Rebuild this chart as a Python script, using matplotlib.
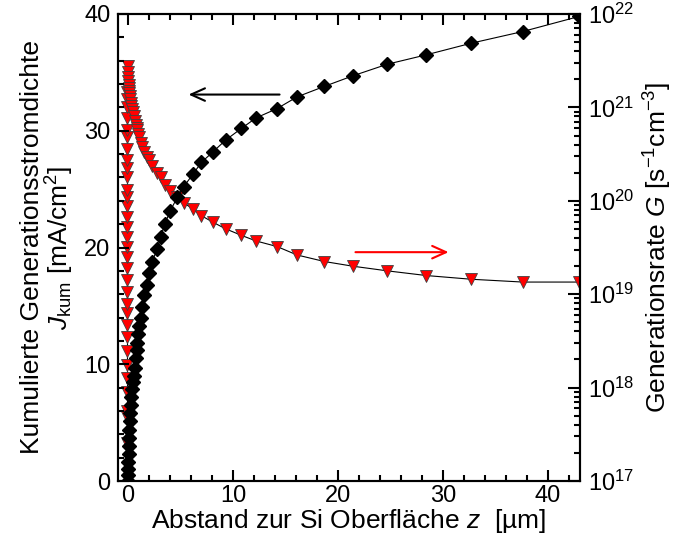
import numpy as np
import matplotlib.pyplot as plt
from matplotlib.ticker import MultipleLocator, LogLocator, NullFormatter

plt.rcParams['font.family'] = ['Liberation Sans', 'DejaVu Sans']
plt.rcParams['mathtext.fontset'] = 'custom'
plt.rcParams['mathtext.rm'] = 'Liberation Sans'
plt.rcParams['mathtext.it'] = 'Liberation Sans:italic'
plt.rcParams['mathtext.default'] = 'regular'

# --- Daten ---
# Tiefe z [µm], gemeinsam fuer J_kum und G
z = [0.0, 0.01, 0.02, 0.04, 0.06, 0.08, 0.11, 0.14, 0.18, 0.22, 0.27, 0.33,
     0.40, 0.48, 0.57, 0.67, 0.76, 0.83, 0.88, 0.95, 1.05, 1.2, 1.33, 1.52,
     1.8, 2.0, 2.3, 2.8, 3.1, 3.5, 4.0, 4.7, 5.3, 6.2, 7.0, 8.1, 9.3, 10.8,
     12.2, 14.2, 16.1, 18.7, 21.4, 24.7, 28.4, 32.7, 37.6, 43.0]

# kumulierte Generationsstromdichte [mA/cm^2]
J_kum = [0.0, 0.5, 1.0, 1.6, 2.3, 3.0, 3.7, 4.4, 5.1, 5.8, 6.5, 7.2,
         7.9, 8.5, 9.0, 9.7, 10.5, 11.2, 11.8, 12.6, 13.3, 14.0, 14.9, 15.9,
         16.8, 17.8, 18.8, 19.9, 20.9, 22.0, 23.1, 24.3, 25.2, 26.3, 27.3, 28.2,
         29.2, 30.2, 31.1, 31.9, 32.9, 33.8, 34.7, 35.7, 36.5, 37.5, 38.5, 39.8]

# Generationsrate, log10(G / s^-1 cm^-3)
G_log = [21.44, 21.38, 21.33, 21.28, 21.24, 21.21, 21.18, 21.15, 21.12, 21.09,
         21.05, 21.01, 20.98, 20.95, 20.91, 20.85, 20.81, 20.78, 20.76, 20.72,
         20.68, 20.62, 20.58, 20.52, 20.47, 20.44, 20.37, 20.30, 20.25, 20.17,
         20.10, 20.04, 19.98, 19.91, 19.84, 19.77, 19.70, 19.63, 19.57, 19.51,
         19.42, 19.35, 19.30, 19.25, 19.20, 19.16, 19.13, 19.13]

# Punkte direkt an der Oberflaeche (senkrechte Reihe bei z ~ 0)
z_surf = [-0.05] * 32
G_surf_log = [17.41, 17.68, 17.75, 17.95, 18.10, 18.24, 18.39, 18.54, 18.67,
              18.80, 18.90, 19.02, 19.15, 19.28, 19.40, 19.51, 19.61, 19.72,
              19.83, 19.94, 20.04, 20.12, 20.25, 20.35, 20.44, 20.55, 20.68,
              20.76, 20.89, 21.00, 21.09, 21.17]

G = 10.0 ** np.array(G_log)
G_surf = 10.0 ** np.array(G_surf_log)

LABEL_FS = 19
TICK_FS = 17

fig = plt.figure(figsize=(6.78, 5.41), dpi=100)
ax = fig.add_axes([117.5 / 678, 1 - 481 / 541, (580 - 117.5) / 678, (481 - 14) / 541])
ax2 = ax.twinx()

# G auf der rechten Achse (log)
tri_style = dict(color='black', lw=0.8, marker='v', ms=9,
                 mfc='red', mec='#404040', mew=0.6)
ax2.plot(z_surf, G_surf, **tri_style)
ax2.plot(z, G, **tri_style)
ax2.set_yscale('log')
ax2.set_ylim(1e17, 1e22)
ax2.yaxis.set_major_locator(LogLocator(base=10, numticks=10))
ax2.yaxis.set_minor_locator(LogLocator(base=10, subs=np.arange(2, 10), numticks=20))
ax2.yaxis.set_minor_formatter(NullFormatter())
ax2.set_ylabel('Generationsrate $\\mathit{G}$ [s$^{-1}$cm$^{-3}$]', fontsize=LABEL_FS, labelpad=5)

# J_kum auf der linken Achse
ax.plot(z, J_kum, color='black', lw=0.8, marker='D', ms=7.5,
        mfc='black', mec='black')
ax.set_xlim(-1.0, 43.05)
ax.set_ylim(0, 40)
ax.xaxis.set_major_locator(MultipleLocator(10))
ax.xaxis.set_minor_locator(MultipleLocator(2))
ax.yaxis.set_major_locator(MultipleLocator(10))
ax.yaxis.set_minor_locator(MultipleLocator(2))
ax.set_xlabel('Abstand zur Si Oberfläche $\\mathit{z}$  [µm]', fontsize=LABEL_FS, labelpad=0)
ax.set_ylabel('Kumulierte Generationsstromdichte\n$\\mathit{J}_{\\mathrm{kum}}$ [mA/cm$^2$]',
              fontsize=LABEL_FS, labelpad=6, linespacing=1.0)

# Pfeile
ax.annotate('', xy=(5.5, 33.1), xytext=(14.7, 33.1),
            arrowprops=dict(arrowstyle='->,head_length=1.0,head_width=0.45',
                            color='black', lw=1.5))
ax.annotate('', xy=(30.8, 19.6), xytext=(21.4, 19.6),
            arrowprops=dict(arrowstyle='->,head_length=1.0,head_width=0.45',
                            color='red', lw=1.5))

# Achsen-Stil
ax.set_zorder(ax2.get_zorder() + 1)
ax.patch.set_visible(False)
for a in (ax, ax2):
    for s in a.spines.values():
        s.set_linewidth(1.5)
ax.tick_params(axis='both', which='both', direction='in', labelsize=TICK_FS,
               top=True, right=False, width=1.5)
ax.tick_params(which='major', length=8)
ax.tick_params(which='minor', length=4)
ax.tick_params(axis='x', pad=3)
ax.tick_params(axis='y', pad=5)
ax2.tick_params(axis='y', which='both', direction='in', labelsize=TICK_FS, width=1.5, pad=6)
ax2.tick_params(axis='y', which='major', length=9)
ax2.tick_params(axis='y', which='minor', length=4.5)

fig.savefig('out.png', dpi=100)
